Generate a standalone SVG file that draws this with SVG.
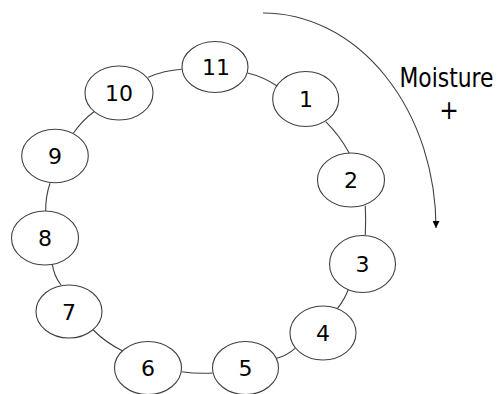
<svg xmlns="http://www.w3.org/2000/svg" width="499" height="394" viewBox="0 0 499 394">
  <style>
    .node ellipse { fill: #ffffff; stroke: #404040; stroke-width: 1.1; }
    .node text { font-family: "DejaVu Sans", sans-serif; font-size: 22px; fill: #000000; text-anchor: middle; }
    .link { fill: none; stroke: #404040; stroke-width: 1.1; }
    .label { font-family: "DejaVu Sans Condensed", "DejaVu Sans", sans-serif; font-stretch: condensed; font-size: 26px; fill: #000000; text-anchor: middle; }
  </style>
  <defs>
    <marker id="arrow" viewBox="0 0 10 10" refX="10" refY="5" markerWidth="7" markerHeight="7" markerUnits="userSpaceOnUse" orient="auto">
      <path d="M0,0 L10,5 L0,10 z" fill="#000000"/>
    </marker>
  </defs>

  <!-- ring connectors between neighbouring stages -->
  <g id="connectors">
    <path class="link" d="M148.3,77.3 Q164.2,70.4 181.7,69.3"/>
    <path class="link" d="M247.5,73 Q263.3,76.7 277,86"/>
    <path class="link" d="M325.7,121.7 Q340,135.9 349.3,153.3"/>
    <path class="link" d="M365.3,205.7 Q366,220.4 365.3,235"/>
    <path class="link" d="M349.3,286.7 Q345,299.4 336.7,309.3"/>
    <path class="link" d="M295,348.3 Q287,355.5 276.7,358.3"/>
    <path class="link" d="M212.7,373 Q197.2,374 181.7,371.7"/>
    <path class="link" d="M122.7,351 Q106,342.8 93.3,330"/>
    <path class="link" d="M61,285 Q54,275.7 52.3,264.3"/>
    <path class="link" d="M45.7,211 Q45.5,196.7 50,183.3"/>
    <path class="link" d="M73.3,133.3 Q82,120.5 94,111.7"/>
    <!-- clockwise direction arrow -->
    <path class="link" d="M263,13 A173,215 0 0 1 436,228" stroke="#333333" marker-end="url(#arrow)"/>
  </g>

  <g id="node-11" class="node"><ellipse cx="215" cy="67" rx="33" ry="25.5"/><text x="216" y="75">11</text></g>
  <g id="node-1" class="node"><ellipse cx="305.7" cy="99" rx="33" ry="27.5"/><text x="306" y="106.5">1</text></g>
  <g id="node-2" class="node"><ellipse cx="351" cy="180" rx="33.5" ry="27"/><text x="351" y="188">2</text></g>
  <g id="node-3" class="node"><ellipse cx="362.5" cy="264" rx="33" ry="28.5"/><text x="362.5" y="272">3</text></g>
  <g id="node-4" class="node"><ellipse cx="323" cy="333" rx="33" ry="27"/><text x="323" y="341">4</text></g>
  <g id="node-5" class="node"><ellipse cx="245.5" cy="368" rx="33" ry="26.5"/><text x="245.5" y="376">5</text></g>
  <g id="node-6" class="node"><ellipse cx="148" cy="368" rx="33.5" ry="26.5"/><text x="148" y="376">6</text></g>
  <g id="node-7" class="node"><ellipse cx="69" cy="311.5" rx="33" ry="26.5"/><text x="69" y="319.5">7</text></g>
  <g id="node-8" class="node"><ellipse cx="45" cy="238" rx="33.5" ry="27"/><text x="45" y="246">8</text></g>
  <g id="node-9" class="node"><ellipse cx="55" cy="156" rx="33.3" ry="26.7"/><text x="55" y="164">9</text></g>
  <g id="node-10" class="node"><ellipse cx="119" cy="93" rx="34" ry="27"/><text x="119" y="101">10</text></g>

  <g id="moisture-label">
    <text class="label" x="446.5" y="86.5" textLength="94" lengthAdjust="spacingAndGlyphs">Moisture</text>
    <text class="label" x="449" y="119">+</text>
  </g>
</svg>
